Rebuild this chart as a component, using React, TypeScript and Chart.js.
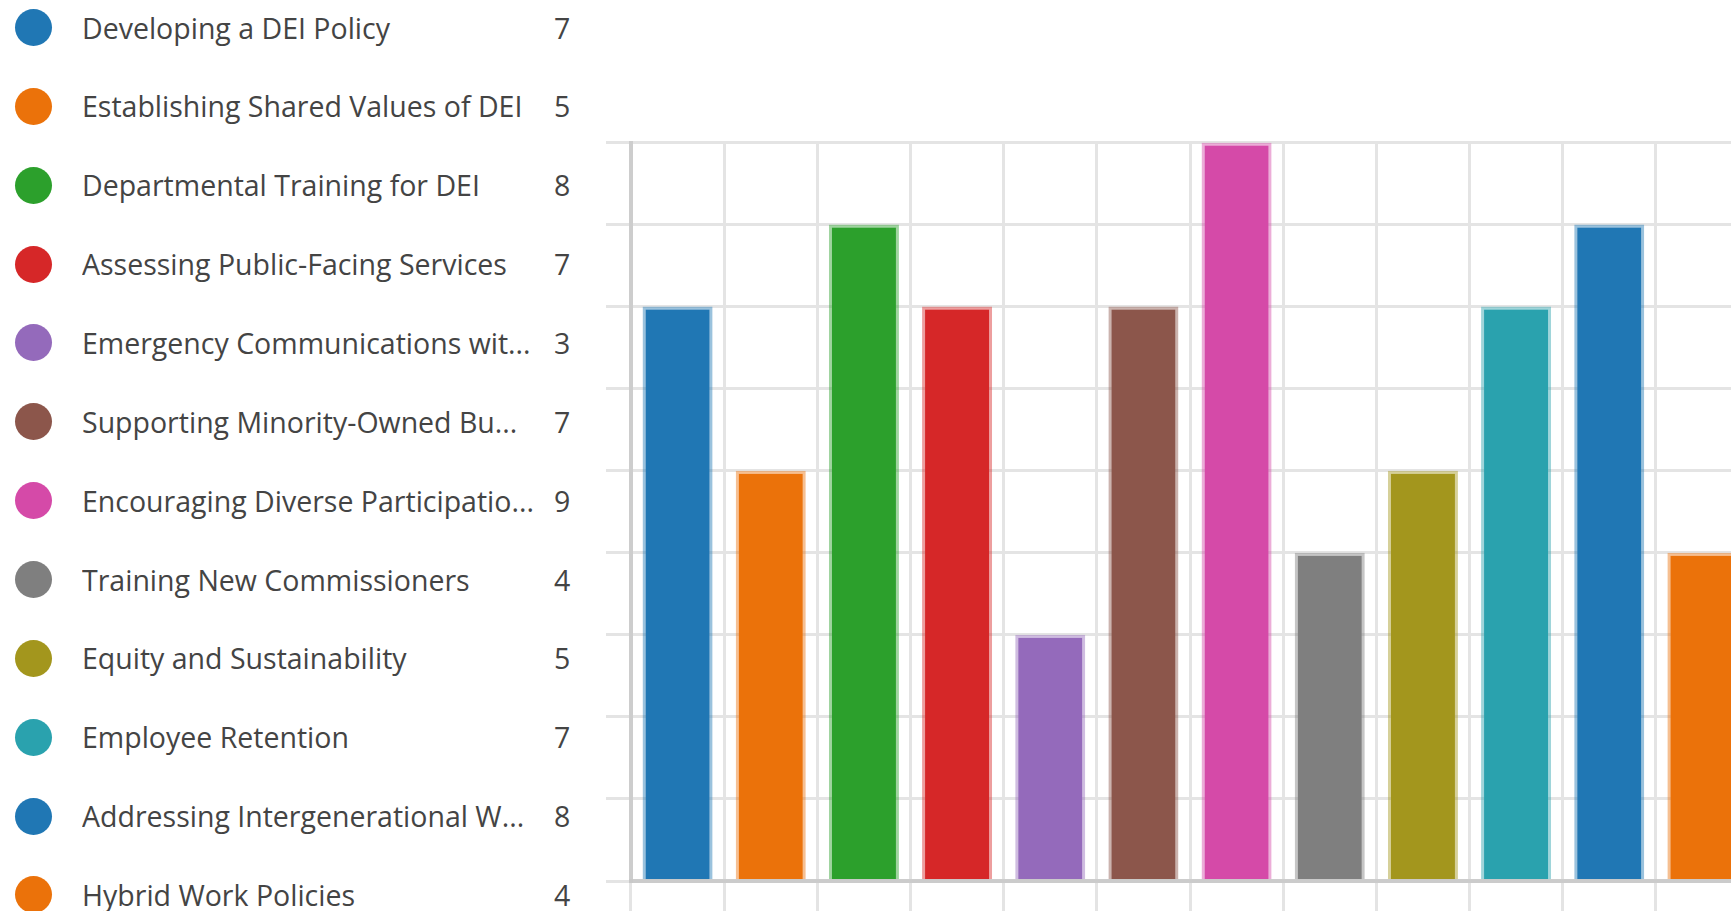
import React, { useEffect, useRef } from "react";
import { Chart, registerables } from "chart.js";

Chart.register(...registerables);

const categories: string[] = [
  "Developing a DEI Policy",
  "Establishing Shared Values of DEI",
  "Departmental Training for DEI",
  "Assessing Public-Facing Services",
  "Emergency Communications wit...",
  "Supporting Minority-Owned Bu...",
  "Encouraging Diverse Participatio...",
  "Training New Commissioners",
  "Equity and Sustainability",
  "Employee Retention",
  "Addressing Intergenerational W...",
  "Hybrid Work Policies",
];

const counts: number[] = [7, 5, 8, 7, 3, 7, 9, 4, 5, 7, 8, 4];

const colors: string[] = [
  "#2077b4",
  "#eb720a",
  "#2ca02c",
  "#d62728",
  "#946abb",
  "#8c564b",
  "#d54aa8",
  "#7f7f7f",
  "#a3961d",
  "#2aa2ae",
  "#2077b4",
  "#eb720a",
];

const yMax = 9;
const yStep = 1;

function BarChart() {
  const ref = useRef<HTMLCanvasElement | null>(null);
  useEffect(() => {
    if (!ref.current) return;
    const chart = new Chart(ref.current, {
      type: "bar",
      data: {
        labels: categories,
        datasets: [
          {
            data: counts,
            backgroundColor: colors,
            borderColor: colors.map((c) => c + "73"),
            borderWidth: 3,
            categoryPercentage: 0.8,
            barPercentage: 0.94,
          },
        ],
      },
      options: {
        responsive: false,
        animation: false,
        layout: { padding: { left: 6, top: 23.5, right: 3, bottom: 8 } },
        plugins: { legend: { display: false }, tooltip: { enabled: false } },
        scales: {
          x: {
            offset: true,
            ticks: { display: false },
            grid: { color: "#e4e4e4", lineWidth: 3, tickLength: 30, offset: true },
            border: { color: "rgba(200,200,200,0.9)", width: 4, z: 1 },
          },
          y: {
            min: 0,
            max: yMax,
            ticks: { display: false, stepSize: yStep },
            grid: { color: "#e4e4e4", lineWidth: 3, tickLength: 25 },
            border: { color: "#cdcdcd", width: 4 },
          },
        },
      },
    } as any);
    return () => chart.destroy();
  }, []);
  return (
    <canvas
      ref={ref}
      width={1152}
      height={800}
      style={{ position: "absolute", left: 600, top: 118.5, width: 1152, height: 800, display: "block" }}
    />
  );
}

export default function App() {
  const rowH = 78.86;
  return (
    <div
      style={{
        position: "fixed",
        left: 0,
        top: 0,
        width: 1731,
        height: 911,
        overflow: "hidden",
        background: "#ffffff",
        fontFamily: "'Open Sans', sans-serif",
      }}
    >
      <div style={{ position: "absolute", left: 0, top: 27.5 - rowH / 2, width: 600 }}>
        {categories.map((label, i) => (
          <div
            key={i}
            style={{ position: "relative", height: rowH, display: "flex", alignItems: "center" }}
          >
            <div
              style={{
                position: "absolute",
                left: 15,
                top: rowH / 2 - 18.5,
                width: 37,
                height: 37,
                borderRadius: "50%",
                background: colors[i],
              }}
            />
            <div
              style={{
                position: "absolute",
                left: 82,
                width: 468,
                whiteSpace: "nowrap",
                overflow: "hidden",
                fontSize: 28.5,
                color: "#444444",
                lineHeight: "40px",
                top: rowH / 2 - 20,
              }}
            >
              {label}
            </div>
            <div
              style={{
                position: "absolute",
                left: 554,
                fontSize: 28.5,
                color: "#444444",
                lineHeight: "40px",
                top: rowH / 2 - 20,
              }}
            >
              {counts[i]}
            </div>
          </div>
        ))}
      </div>
      <BarChart />
    </div>
  );
}
